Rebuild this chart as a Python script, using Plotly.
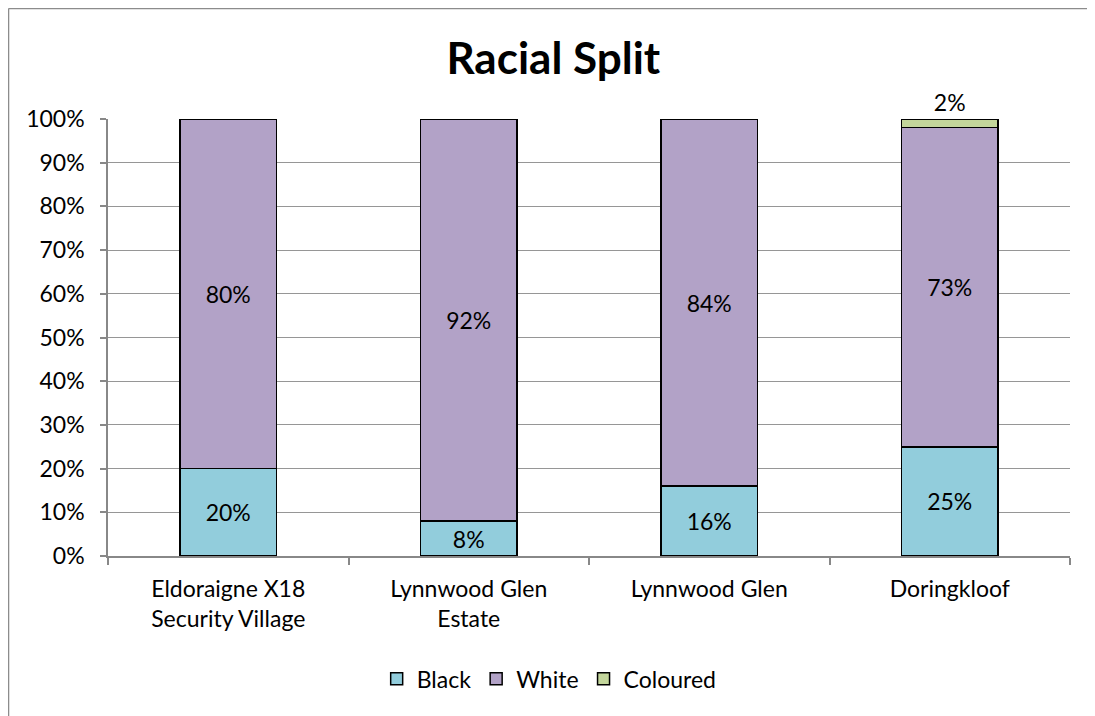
import plotly.graph_objects as go

categories = ["Eldoraigne X18<br>Security Village", "Lynnwood Glen<br>Estate", "Lynnwood Glen", "Doringkloof"]
black = [0.20, 0.08, 0.16, 0.25]
white = [0.80, 0.92, 0.84, 0.73]
coloured = [0.0, 0.0, 0.0, 0.02]
y_ticks = [0, 0.1, 0.2, 0.3, 0.4, 0.5, 0.6, 0.7, 0.8, 0.9, 1.0]

FONT = "Lato"
xpos = list(range(len(categories)))

def labels(vals):
    return [f"{round(v*100)}%" if v > 0 else "" for v in vals]

fig = go.Figure()
series = [("Black", black, "#92CDDC", "inside"),
          ("White", white, "#B2A2C7", "inside"),
          ("Coloured", coloured, "#C3D69B", "outside")]
for name, vals, col, pos in series:
    fig.add_trace(go.Bar(
        name=name, x=xpos, y=vals, width=0.4,
        marker=dict(color=col, line=dict(color="black", width=1.5)),
        text=labels(vals), textposition=pos, insidetextanchor="middle",
        textangle=0, constraintext="none", cliponaxis=False,
        textfont=dict(family=FONT, size=23, color="black"),
        hoverinfo="skip",
    ))

fig.update_layout(
    barmode="stack",
    width=1095, height=716,
    margin=dict(l=100, r=33, t=111, b=168),
    paper_bgcolor="white", plot_bgcolor="white",
    font=dict(family=FONT, size=23, color="black"),
    title=dict(text="<b>Racial Split</b>", x=0.498, xref="container", y=0.930, yref="container",
               xanchor="center", yanchor="middle", font=dict(family=FONT, size=44, color="black")),
    legend=dict(orientation="h", x=0.4586, xanchor="center", y=-0.281, yanchor="middle",
                font=dict(family=FONT, size=23, color="black"), traceorder="normal",
                itemwidth=30),
    showlegend=True,
)
fig.update_xaxes(
    range=[-0.5, 3.5], tickvals=xpos, ticktext=categories, ticks="",
    showline=True, linecolor="#888888", linewidth=1.5, showgrid=False, zeroline=False,
    minor=dict(tick0=0.5, dtick=1, ticks="outside", ticklen=7, tickcolor="#888888", tickwidth=1.5, showgrid=False),
    tickfont=dict(family=FONT, size=23), ticklabelstandoff=12,
)
fig.update_yaxes(
    range=[0, 1], tickvals=y_ticks, tickformat=".0%", ticks="outside", ticklen=6,
    tickcolor="#888888", tickwidth=1.5,
    showline=True, linecolor="#888888", linewidth=1.5,
    showgrid=True, gridcolor="#969696", gridwidth=1.2, zeroline=False,
    tickfont=dict(family=FONT, size=23), ticklabelstandoff=11,
)
# chart border (left and top edges visible)
fig.add_shape(type="line", xref="paper", yref="paper", x0=-0.1034, x1=-0.1034, y0=1.2529, y1=-0.4,
              line=dict(color="#8c8c8c", width=1.5))
fig.add_shape(type="line", xref="paper", yref="paper", x0=-0.1034, x1=1.05, y0=1.2529, y1=1.2529,
              line=dict(color="#8c8c8c", width=1.5))

fig.write_html("out.html")
